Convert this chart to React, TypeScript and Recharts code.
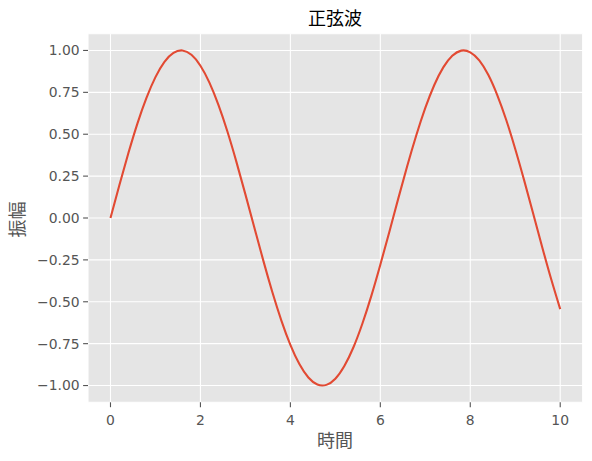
import React from 'react';
import { LineChart, Line, XAxis, YAxis, CartesianGrid, Label } from 'recharts';

const timeValues = [
  0, 0.2, 0.4, 0.6, 0.8, 1.0, 1.2, 1.4, 1.6, 1.8, 2.0, 2.2, 2.4, 2.6, 2.8, 3.0,
  3.2, 3.4, 3.6, 3.8, 4.0, 4.2, 4.4, 4.6, 4.8, 5.0, 5.2, 5.4, 5.6, 5.8, 6.0,
  6.2, 6.4, 6.6, 6.8, 7.0, 7.2, 7.4, 7.6, 7.8, 8.0, 8.2, 8.4, 8.6, 8.8, 9.0,
  9.2, 9.4, 9.6, 9.8, 10.0,
];
const amplitudeValues = [
  0, 0.199, 0.389, 0.565, 0.717, 0.841, 0.932, 0.985, 1.0, 0.974, 0.909, 0.808,
  0.675, 0.516, 0.335, 0.141, -0.058, -0.256, -0.443, -0.612, -0.757, -0.872,
  -0.952, -0.994, -0.996, -0.959, -0.883, -0.773, -0.631, -0.465, -0.279,
  -0.083, 0.117, 0.312, 0.494, 0.657, 0.794, 0.899, 0.968, 0.999, 0.989, 0.941,
  0.855, 0.734, 0.585, 0.412, 0.223, 0.025, -0.174, -0.366, -0.544,
];
const xTicks = [0, 2, 4, 6, 8, 10];
const yTicks = [-1, -0.75, -0.5, -0.25, 0, 0.25, 0.5, 0.75, 1];

const title = '正弦波';
const xLabel = '時間';
const yLabel = '振幅';

const data = timeValues.map((t, i) => ({ t, v: amplitudeValues[i] }));

const tickFont = { fontFamily: 'DejaVu Sans', fontSize: 13.9, fill: '#555555' };
const cjkFont = 'Noto Sans CJK JP';

const fmtY = (v: number) => v.toFixed(2).replace('-', '\u2212');

export default function App() {
  return (
    <div style={{ position: 'absolute', left: 0, top: 0, width: 592, height: 461, background: '#fff' }}>
      <LineChart
        width={592}
        height={461}
        data={data}
        margin={{ top: 33.7, right: 9.3, bottom: 28.7, left: 28 }}
      >
        <CartesianGrid
          fill="#E5E5E5"
          stroke="#ffffff"
          strokeWidth={1.1}
          fillOpacity={1}
        />
        <XAxis
          dataKey="t"
          type="number"
          domain={[-0.5, 10.5]}
          ticks={xTicks}
          allowDataOverflow
          axisLine={false}
          tickLine={{ stroke: '#555555', strokeWidth: 1.1 }}
          tickSize={4.9}
          tickMargin={7.5}
          tick={tickFont}
          height={30}
          interval={0}
        >
          <Label
            content={() => (
              <text
                x={335}
                y={438.5}
                textAnchor="middle"
                dominantBaseline="central"
                fontFamily={cjkFont}
                fontSize={18}
                fill="#555555"
              >
                {xLabel}
              </text>
            )}
          />
        </XAxis>
        <YAxis
          type="number"
          domain={[-1.1, 1.1]}
          ticks={yTicks}
          allowDataOverflow
          axisLine={false}
          tickLine={{ stroke: '#555555', strokeWidth: 1.1 }}
          tickSize={4.9}
          tickMargin={3.5}
          tick={tickFont}
          tickFormatter={fmtY}
          width={60}
          interval={0}
        >
          <Label
            content={() => (
              <text
                x={16}
                y={219.5}
                transform="rotate(-90 16 219.5)"
                textAnchor="middle"
                dominantBaseline="central"
                fontFamily={cjkFont}
                fontSize={18}
                fill="#555555"
              >
                {yLabel}
              </text>
            )}
          />
        </YAxis>
        <Line
          type="natural"
          dataKey="v"
          stroke="#E24A33"
          strokeWidth={2.1}
          dot={false}
          isAnimationActive={false}
        />
        <text
          x={335}
          y={17}
          textAnchor="middle"
          dominantBaseline="central"
          fontFamily={cjkFont}
          fontSize={18}
          fill="#000000"
        >
          {title}
        </text>
      </LineChart>
    </div>
  );
}
